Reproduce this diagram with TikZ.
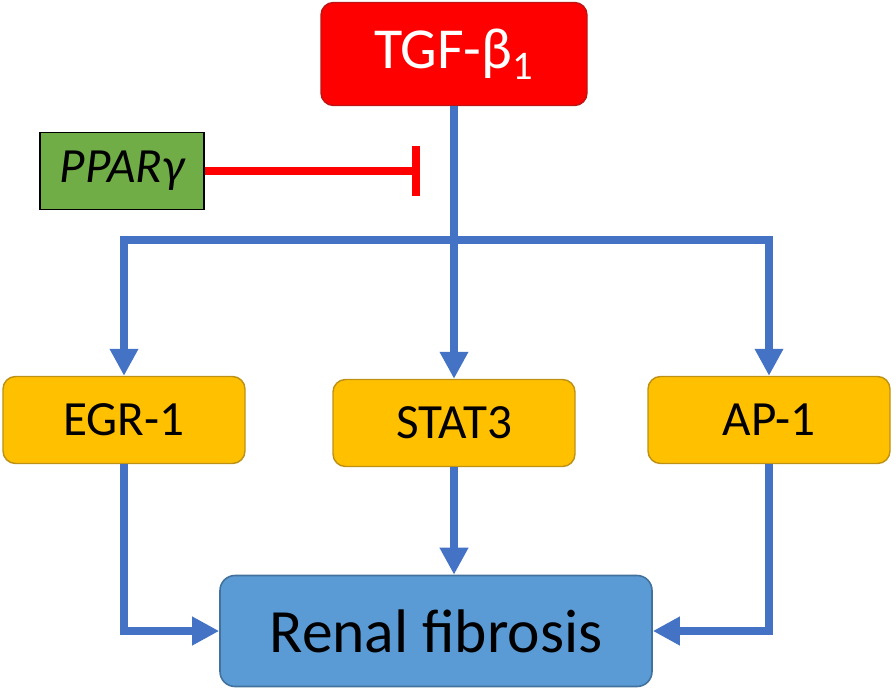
\documentclass[tikz,border=0pt]{standalone}
\usepackage{fontspec}
\setmainfont{Carlito}
\usepackage{tikz}
\usetikzlibrary{positioning}
\usetikzlibrary{calc}
\usetikzlibrary{arrows.meta}
\definecolor{tgfred}{RGB}{255,0,0}
\definecolor{tgfedge}{RGB}{190,20,20}
\definecolor{pparfill}{RGB}{112,173,71}
\definecolor{tfyellow}{RGB}{255,192,0}
\definecolor{tfedge}{RGB}{190,145,20}
\definecolor{renalfill}{RGB}{91,155,213}
\definecolor{renaledge}{RGB}{65,113,156}
\definecolor{pathblue}{RGB}{68,114,196}
\tikzset{
    % Triangle heads, as in the slide
    >={Triangle[length=5.4mm, width=5.4mm]},
%
    % Thick blue signalling line
    signal/.style={pathblue, line width=1.6mm},
%
    % Red inhibition line ending in a bar
    inhibit/.style={tgfred, line width=1.6mm,
        -{Bar[width=10mm, line width=1.7mm]}},
%
    % Yellow box for a transcription factor
    factor box/.style={
        draw=tfedge, line width=0.8pt, fill=tfyellow, rounded corners=2.5mm,
        minimum width=4.84cm, minimum height=1.74cm, font=\fontsize{28}{32}\selectfont}}

\begin{document}
\begin{tikzpicture}[x=0.2mm, y=-0.2mm]
\useasboundingbox (0,0) rectangle (896,691);

\node [draw=tgfedge, line width=0.8pt, fill=tgfred, rounded corners=2.5mm,
    text=white, minimum width=5.32cm, minimum height=2.06cm,
    font=\fontsize{33}{38}\selectfont]
    (tgf) at (454,54) {TGF-β\textsubscript{1}};

\node [draw, line width=0.9pt, fill=pparfill, minimum width=3.28cm,
    minimum height=1.54cm, font=\fontsize{28}{32}\selectfont\itshape]
    (ppar) at (122,171) {PPARγ};

\node [factor box] (egr) at (124,420) {EGR-1};
\node [factor box] (stat) at (454,423) {STAT3};
\node [factor box] (ap) at (769,420) {AP-1};

\node [draw=renaledge, line width=0.9pt, fill=renalfill, rounded corners=3mm,
    minimum width=8.64cm, minimum height=2.22cm,
    font=\fontsize{35}{40}\selectfont]
    (renal) at (436,631) {Renal fibrosis};

\coordinate (split) at (454,240);
\coordinate (block) at (420,171);

\draw [signal, ->] (tgf) -- (stat);
\draw [signal, ->] (split) -| (egr.north);
\draw [signal, ->] (split) -| (ap.north);
\draw [inhibit] (ppar.east) -- (block);

\draw [signal, ->] (egr.south) |- (renal.west);
\draw [signal, ->] (stat.south) -- (stat.south |- renal.north);
\draw [signal, ->] (ap.south) |- (renal.east);

\end{tikzpicture}
\end{document}
